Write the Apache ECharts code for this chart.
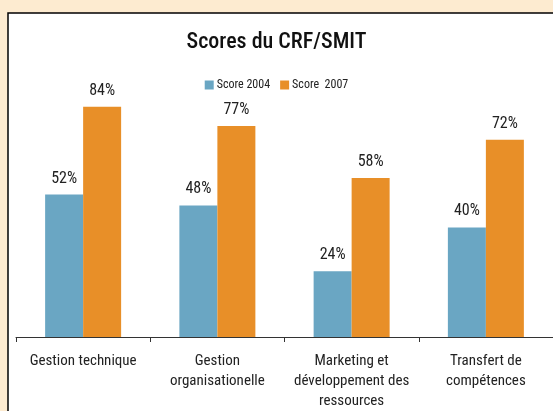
<!DOCTYPE html>
<html>
<head>
<meta charset="utf-8">
<script src="https://cdn.jsdelivr.net/npm/echarts@6/dist/echarts.min.js"></script>
<style>
  html, body { margin: 0; padding: 0; background: #fdebd0; }
  #chart { width: 553px; height: 411px; }
</style>
</head>
<body>
<div id="chart"></div>
<script>
const categories = [
  'Gestion technique',
  'Gestion\norganisationelle',
  'Marketing et\ndéveloppement des\nressources',
  'Transfert de\ncompétences'
];
const score2004 = [52, 48, 24, 40];
const score2007 = [84, 77, 58, 72];

const font = "'Liberation Sans Narrow', 'Roboto Condensed', 'Liberation Sans', sans-serif";

const chart = echarts.init(document.getElementById('chart'));

const labelStyle = {
  show: true,
  position: 'top',
  distance: 8,
  formatter: '{c}%',
  color: '#222',
  fontSize: 16,
  fontFamily: font
};

chart.setOption({
  backgroundColor: '#fdebd0',
  animation: false,
  textStyle: { fontFamily: font },
  graphic: [{
    type: 'rect',
    z: -10,
    shape: { x: 8, y: 13, width: 600, height: 450 },
    style: { fill: '#fff', stroke: '#000', lineWidth: 1.5 }
  }],
  title: {
    text: 'Scores du CRF/SMIT',
    left: 'center',
    top: 26,
    textStyle: { fontSize: 22, fontWeight: 500, color: '#111', fontFamily: font }
  },
  legend: {
    data: ['Score 2004', 'Score  2007'],
    top: 74,
    left: 'center',
    icon: 'rect',
    itemWidth: 9,
    itemHeight: 9,
    itemGap: 10,
    textStyle: { fontSize: 12, color: '#222', fontFamily: font, padding: [0, 0, 0, -2] }
  },
  grid: {
    left: 16,
    width: 538,
    top: 63,
    bottom: 73.5
  },
  xAxis: {
    type: 'category',
    data: categories,
    axisLine: { lineStyle: { color: '#333', width: 1 } },
    axisTick: { show: true, length: 5, lineStyle: { color: '#333' } },
    axisLabel: {
      color: '#222',
      fontSize: 15,
      lineHeight: 20,
      margin: 14,
      interval: 0,
      fontFamily: font
    }
  },
  yAxis: {
    type: 'value',
    min: 0,
    max: 100,
    show: false
  },
  series: [
    {
      name: 'Score 2004',
      type: 'bar',
      data: score2004,
      barWidth: 38,
      barGap: '0%',
      itemStyle: { color: '#6aa6c3' },
      label: labelStyle
    },
    {
      name: 'Score  2007',
      type: 'bar',
      data: score2007,
      barWidth: 38,
      itemStyle: { color: '#e88f28' },
      label: labelStyle
    }
  ]
});
</script>
</body>
</html>
